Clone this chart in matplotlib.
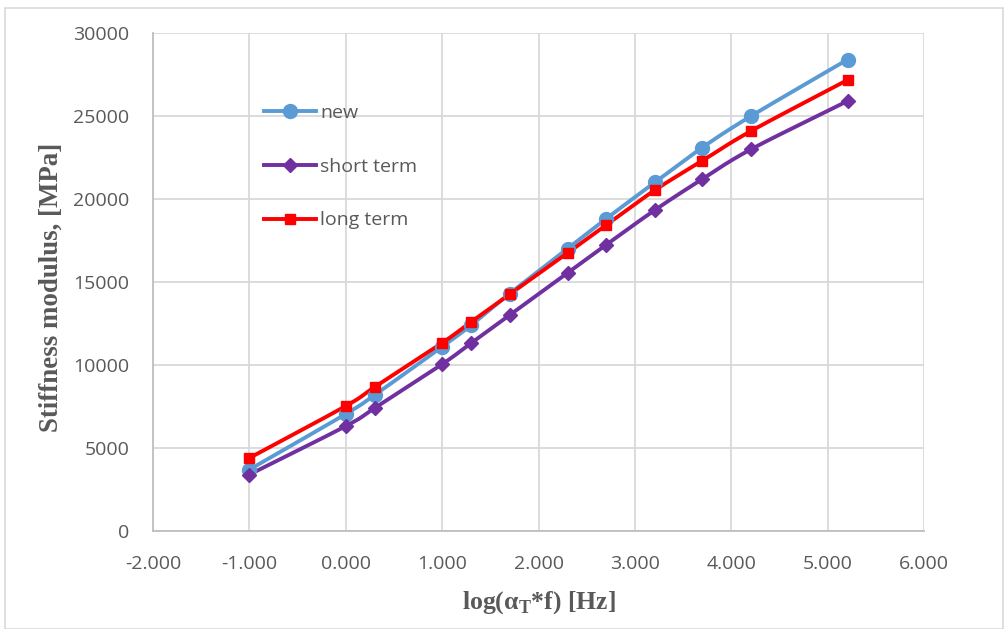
import numpy as np
import matplotlib.pyplot as plt
from matplotlib.patches import Rectangle

# log(aT*f) values and stiffness modulus [MPa] per series
log_freq = [-1.0, 0.0, 0.301, 1.0, 1.301, 1.699, 2.301, 2.699, 3.206, 3.699, 4.206, 5.206]
new = [3700, 7050, 8200, 11100, 12400, 14300, 17000, 18800, 21000, 23100, 25000, 28400]
short_term = [3400, 6320, 7410, 10050, 11320, 13000, 15540, 17230, 19330, 21200, 23000, 25900]
long_term = [4400, 7530, 8680, 11330, 12600, 14250, 16750, 18420, 20530, 22300, 24100, 27170]

xticks = np.arange(-2, 7, 1)
yticks = np.arange(0, 30001, 5000)

plt.rcParams['font.family'] = ['Open Sans', 'DejaVu Sans']


def smooth(x, y, n=20):
    # catmull-rom curve through the points, like excel's smoothed line
    x = np.asarray(x, float)
    y = np.asarray(y, float)
    px = np.concatenate([[2 * x[0] - x[1]], x, [2 * x[-1] - x[-2]]])
    py = np.concatenate([[2 * y[0] - y[1]], y, [2 * y[-1] - y[-2]]])
    t = np.linspace(0, 1, n)
    ox, oy = [], []
    for i in range(1, len(px) - 2):
        for p, out in ((px, ox), (py, oy)):
            p0, p1, p2, p3 = p[i - 1], p[i], p[i + 1], p[i + 2]
            seg = 0.5 * ((2 * p1) + (-p0 + p2) * t + (2 * p0 - 5 * p1 + 4 * p2 - p3) * t ** 2
                         + (-p0 + 3 * p1 - 3 * p2 + p3) * t ** 3)
            out.extend(seg)
    return np.array(ox), np.array(oy)


fig = plt.figure(figsize=(10.08, 6.29), dpi=100)
ax = fig.add_axes([0.1518, 0.1558, 0.7649, 0.7917])

series = [
    (new, 'new', '#5B9BD5', 'o', 10),
    (short_term, 'short term', '#7030A0', 'D', 7),
    (long_term, 'long term', '#FF0000', 's', 7),
]
for vals, name, col, mk, ms in series:
    sx, sy = smooth(log_freq, vals)
    ax.plot(sx, sy, color=col, lw=2.8, solid_capstyle='round', zorder=3)
    ax.plot(log_freq, vals, ls='none', marker=mk, ms=ms, color=col, zorder=4)
    ax.plot([], [], color=col, lw=2.8, marker=mk, ms=ms, label=name)

ax.set_xlim(-2, 6)
ax.set_ylim(0, 30000)
ax.set_xticks(xticks)
ax.set_xticklabels(['%.3f' % v for v in xticks])
ax.set_yticks(yticks)
ax.set_yticklabels([str(v) for v in yticks])
ax.tick_params(length=0, labelsize=14, labelcolor='#595959')
ax.tick_params(axis='x', pad=17)
ax.tick_params(axis='y', pad=17)
ax.grid(True, color='#D9D9D9', lw=1.3)
ax.set_axisbelow(True)
for side in ['top', 'right']:
    ax.spines[side].set_visible(False)
for side in ['left', 'bottom']:
    ax.spines[side].set_color('#BFBFBF')
    ax.spines[side].set_linewidth(1.3)

ax.set_xlabel(r'log(α$_\mathregular{T}$*f) [Hz]', family='Liberation Serif',
              fontweight='bold', fontsize=18.5, color='#595959', labelpad=12)
ax.set_ylabel('Stiffness modulus, [MPa]', family='Liberation Serif',
              fontweight='bold', fontsize=19.4, color='#595959', labelpad=7)
ax.yaxis.label.set_y(0.49)

ax.legend(loc='upper left', bbox_to_anchor=(0.121, 0.892), frameon=False,
          fontsize=14, labelcolor='#595959', handlelength=2.7,
          handletextpad=0.2, labelspacing=1.83)

fig.patches.append(Rectangle((0.005, 0.0), 0.99, 0.988, transform=fig.transFigure,
                             fill=False, edgecolor='#D9D9D9', lw=1.2))

fig.savefig('out.png', dpi=100)
